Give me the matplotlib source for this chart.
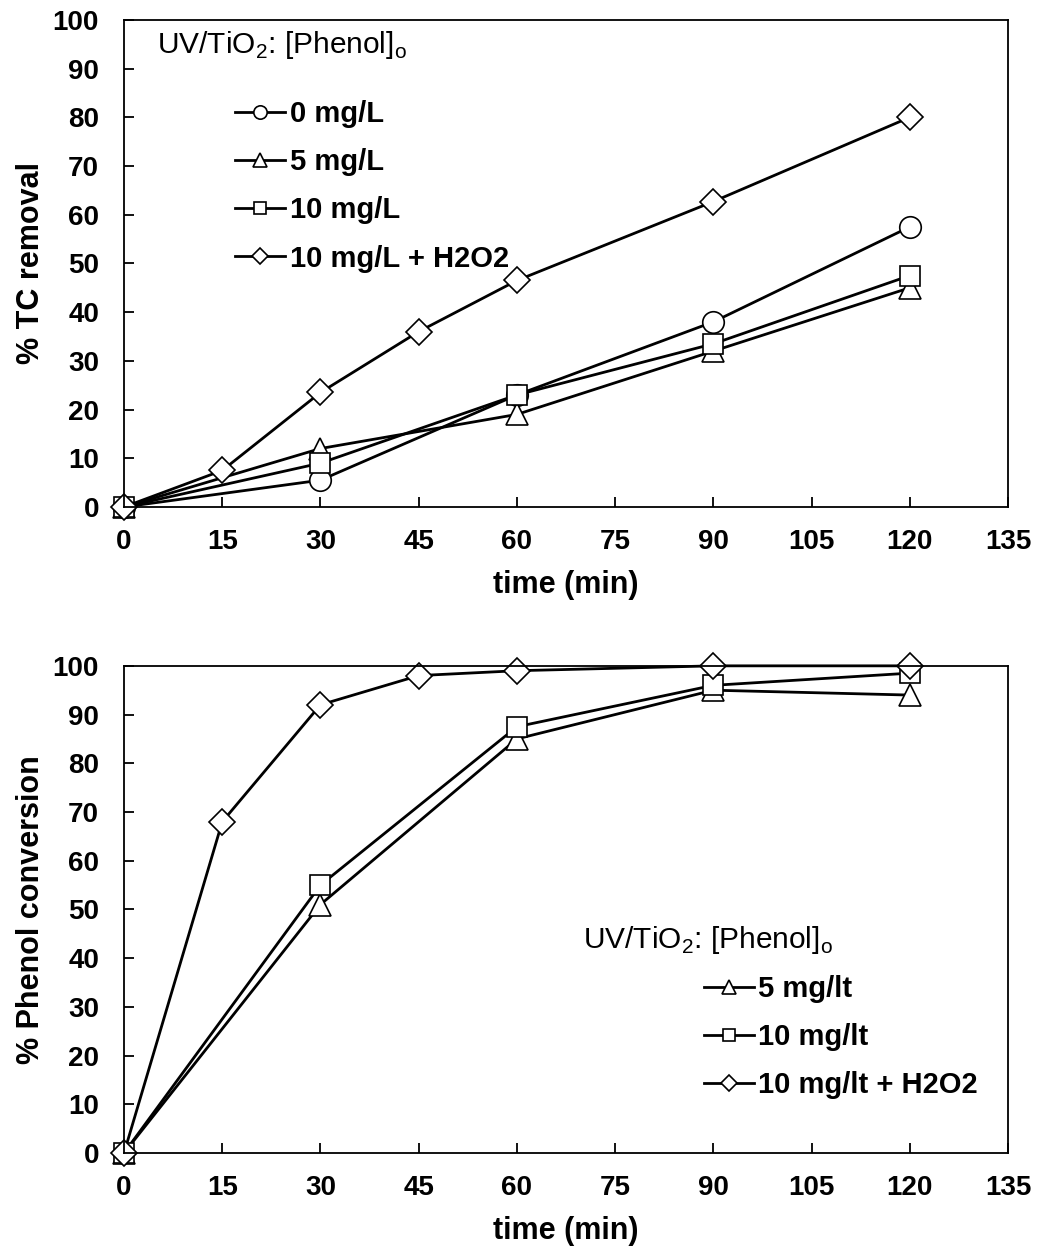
import numpy as np
import matplotlib
matplotlib.use("Agg")
from matplotlib import pyplot as plt

plt.rcParams['font.family'] = ['Liberation Sans', 'DejaVu Sans']
plt.rcParams['mathtext.fontset'] = 'custom'
plt.rcParams['mathtext.rm'] = 'Liberation Sans'
plt.rcParams['mathtext.bf'] = 'Liberation Sans:bold'

# top panel: % TC removal
t_a = [0, 30, 60, 90, 120]
t_d = [0, 15, 30, 45, 60, 90, 120]
tc_0 = [0, 5.5, 23, 38, 57.5]
tc_5 = [0, 12, 19, 32, 45]
tc_10 = [0, 9, 23, 33.5, 47.5]
tc_h2o2 = [0, 7.5, 23.5, 36, 46.5, 62.7, 80]

# bottom panel: % phenol conversion
ph_5 = [0, 51, 85, 95, 94]
ph_10 = [0, 55, 87.5, 96, 98.5]
ph_h2o2 = [0, 68, 92, 98, 99, 100, 100]

xticks = np.arange(0, 136, 15)
yticks = np.arange(0, 101, 10)

fig = plt.figure(figsize=(10.53, 12.49), dpi=100)
ax1 = fig.add_axes([0.1178, 0.5941, 0.8395, 0.390])
ax2 = fig.add_axes([0.1178, 0.0769, 0.8395, 0.390])

style = dict(color='black', lw=2.0, mfc='white', mec='black', mew=1.2, clip_on=False)

ax1.plot(t_a, tc_0, marker='o', ms=15.5, label='0 mg/L', **style)
ax1.plot(t_a, tc_5, marker='^', ms=16, label='5 mg/L', **style)
ax1.plot(t_a, tc_10, marker='s', ms=15, label='10 mg/L', **style)
ax1.plot(t_d, tc_h2o2, marker='D', ms=13, label='10 mg/L + H2O2', **style)

ax2.plot(t_a, ph_5, marker='^', ms=16, label='5 mg/lt', **style)
ax2.plot(t_a, ph_10, marker='s', ms=15, label='10 mg/lt', **style)
ax2.plot(t_d, ph_h2o2, marker='D', ms=13, label='10 mg/lt + H2O2', **style)

for ax, ylab in [(ax1, '% TC removal'), (ax2, '% Phenol conversion')]:
    ax.set_xlim(0, 135)
    ax.set_ylim(0, 100)
    ax.set_xticks(xticks)
    ax.set_yticks(yticks)
    ax.tick_params(direction='in', length=7, width=1.3, labelsize=20)
    ax.tick_params(axis='x', pad=16)
    ax.tick_params(axis='y', pad=18)
    for lab in ax.get_xticklabels() + ax.get_yticklabels():
        lab.set_fontweight('bold')
    for sp in ax.spines.values():
        sp.set_linewidth(1.3)
    ax.set_xlabel('time (min)', fontsize=22, fontweight='bold', labelpad=11)
    ax.set_ylabel(ylab, fontsize=22, fontweight='bold', labelpad=5)

title = r'UV/TiO$_\mathrm{2}$: [Phenol]$_\mathrm{o}$'
ax1.text(0.037, 0.949, title, transform=ax1.transAxes, fontsize=21.5, va='center', ha='left')
ax1.legend(loc='upper left', bbox_to_anchor=(0.126, 0.835), frameon=False,
           prop=dict(size=21, weight='bold'), markerscale=0.62, handlelength=1.7,
           handletextpad=0.17, labelspacing=0.69, borderpad=0, borderaxespad=0)

ax2.text(0.519, 0.437, title, transform=ax2.transAxes, fontsize=21.5, va='center', ha='left')
ax2.legend(loc='upper left', bbox_to_anchor=(0.656, 0.365), frameon=False,
           prop=dict(size=21, weight='bold'), markerscale=0.62, handlelength=1.7,
           handletextpad=0.17, labelspacing=0.69, borderpad=0, borderaxespad=0)

fig.savefig('out.png', dpi=100)
